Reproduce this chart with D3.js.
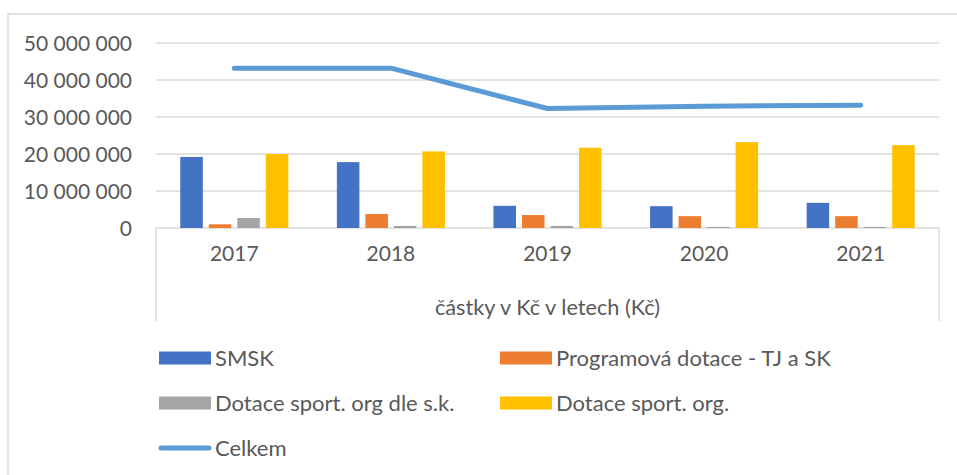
<!DOCTYPE html>
<html>
<head>
<meta charset="utf-8">
<script src="https://cdn.jsdelivr.net/npm/d3@7"></script>
<style>
    body { margin: 0; background: #fff; }
    svg text { font-family: Lato, "Open Sans", sans-serif; fill: #595959; }
</style>
</head>
<body>
<div id="wrapper"></div>
<script>
const years = ["2017", "2018", "2019", "2020", "2021"];
const smsk = [19200000, 17800000, 6000000, 5900000, 6800000];
const programova = [1000000, 3800000, 3500000, 3200000, 3200000];
const dleSk = [2700000, 550000, 550000, 300000, 300000];
const sportOrg = [20000000, 20700000, 21700000, 23200000, 22400000];
const celkem = [43200000, 43200000, 32300000, 32900000, 33200000];
const yTicks = [0, 10000000, 20000000, 30000000, 40000000, 50000000];
const axisTitle = "částky v Kč v letech (Kč)";

const barSeries = [
    { name: "SMSK", values: smsk, color: "#4472C4" },
    { name: "Programová dotace - TJ a SK", values: programova, color: "#ED7D31" },
    { name: "Dotace sport. org dle s.k.", values: dleSk, color: "#A5A5A5" },
    { name: "Dotace sport. org.", values: sportOrg, color: "#FFC000" }
];
const lineColor = "#5B9BD5";

function buildPlot() {
    const dimension = {
        width: 957,
        height: 475,
        margin: { top: 43, left: 156, right: 18, bottom: 247 }
    };
    dimension.boundedWidth = dimension.width - dimension.margin.left - dimension.margin.right;
    dimension.boundedHeight = 228 - dimension.margin.top;

    const svg = d3.select("#wrapper").append("svg")
        .attr("width", dimension.width)
        .attr("height", dimension.height);

    // outer chart border
    svg.append("rect")
        .attr("x", 8).attr("y", 14)
        .attr("width", 970).attr("height", 480)
        .attr("fill", "none")
        .attr("stroke", "#D9D9D9")
        .attr("stroke-width", 1.5);

    const bounds = svg.append("g")
        .attr("transform", `translate(${dimension.margin.left},${dimension.margin.top})`);

    const yScaler = d3.scaleLinear()
        .domain([0, 50000000])
        .range([dimension.boundedHeight, 0]);

    const xScaler = d3.scaleBand()
        .domain(years)
        .range([0, dimension.boundedWidth]);

    const innerScaler = d3.scaleBand()
        .domain(barSeries.map(s => s.name))
        .range([xScaler.bandwidth() * 0.155, xScaler.bandwidth() * 0.845])
        .paddingInner(0.21);

    // gridlines
    bounds.append("g")
        .selectAll("line")
        .data(yTicks.filter(t => t > 0))
        .join("line")
        .attr("x1", 0)
        .attr("x2", dimension.boundedWidth)
        .attr("y1", d => yScaler(d))
        .attr("y2", d => yScaler(d))
        .attr("stroke", "#D9D9D9")
        .attr("stroke-width", 1.5);

    // y axis labels
    const fmt = d => d3.format(",")(d).replace(/,/g, " ");
    const yAxisGenerator = d3.axisLeft(yScaler)
        .tickValues(yTicks)
        .tickFormat(fmt)
        .tickSize(0)
        .tickPadding(24);
    const yAxis = bounds.append("g").call(yAxisGenerator);
    yAxis.select(".domain").remove();
    yAxis.selectAll("text")
        .style("font-size", "21px")
        .attr("fill", "#595959")
        .attr("dy", "0.36em");

    // category axis box
    const boxBottom = 321 - dimension.margin.top;
    bounds.append("path")
        .attr("d", `M0,${boxBottom}V${dimension.boundedHeight}H${dimension.boundedWidth}V${boxBottom}`)
        .attr("fill", "none")
        .attr("stroke", "#D9D9D9")
        .attr("stroke-width", 1.5);

    const xAxisGenerator = d3.axisBottom(xScaler).tickSize(0).tickPadding(18);
    const xAxis = bounds.append("g")
        .attr("transform", `translate(0,${dimension.boundedHeight})`)
        .call(xAxisGenerator);
    xAxis.select(".domain").remove();
    xAxis.selectAll("text")
        .style("font-size", "21px")
        .attr("fill", "#595959");

    bounds.append("text")
        .attr("x", dimension.boundedWidth / 2)
        .attr("y", 307 - dimension.margin.top)
        .attr("text-anchor", "middle")
        .attr("dy", "0.35em")
        .style("font-size", "21.7px")
        .text(axisTitle);

    // bars
    barSeries.forEach(s => {
        bounds.append("g")
            .selectAll("rect")
            .data(s.values)
            .join("rect")
            .attr("x", (d, i) => xScaler(years[i]) + innerScaler(s.name))
            .attr("y", d => yScaler(d))
            .attr("width", innerScaler.bandwidth())
            .attr("height", d => yScaler(0) - yScaler(d))
            .attr("fill", s.color);
    });

    // total line
    const line = d3.line()
        .x((d, i) => xScaler(years[i]) + xScaler.bandwidth() / 2)
        .y(d => yScaler(d));
    bounds.append("path")
        .datum(celkem)
        .attr("d", line)
        .attr("fill", "none")
        .attr("stroke", lineColor)
        .attr("stroke-width", 5)
        .attr("stroke-linecap", "round")
        .attr("stroke-linejoin", "round");

    // legend
    const legendItems = barSeries.map(s => ({ name: s.name, color: s.color, type: "bar" }))
        .concat([{ name: "Celkem", color: lineColor, type: "line" }]);
    const legend = svg.append("g");
    const colX = [159, 500];
    const rowY = [358, 403, 448];
    legendItems.forEach((item, i) => {
        const g = legend.append("g")
            .attr("transform", `translate(${colX[i % 2]},${rowY[Math.floor(i / 2)]})`);
        if (item.type === "bar") {
            g.append("rect")
                .attr("x", 0).attr("y", -6.5)
                .attr("width", 52).attr("height", 13)
                .attr("fill", item.color);
        } else {
            g.append("line")
                .attr("x1", 2).attr("x2", 50)
                .attr("y1", 0).attr("y2", 0)
                .attr("stroke", item.color)
                .attr("stroke-width", 5)
                .attr("stroke-linecap", "round");
        }
        g.append("text")
            .attr("x", 56)
            .attr("dy", "0.36em")
            .style("font-size", "22px")
            .text(item.name);
    });
}

buildPlot();
</script>
</body>
</html>
